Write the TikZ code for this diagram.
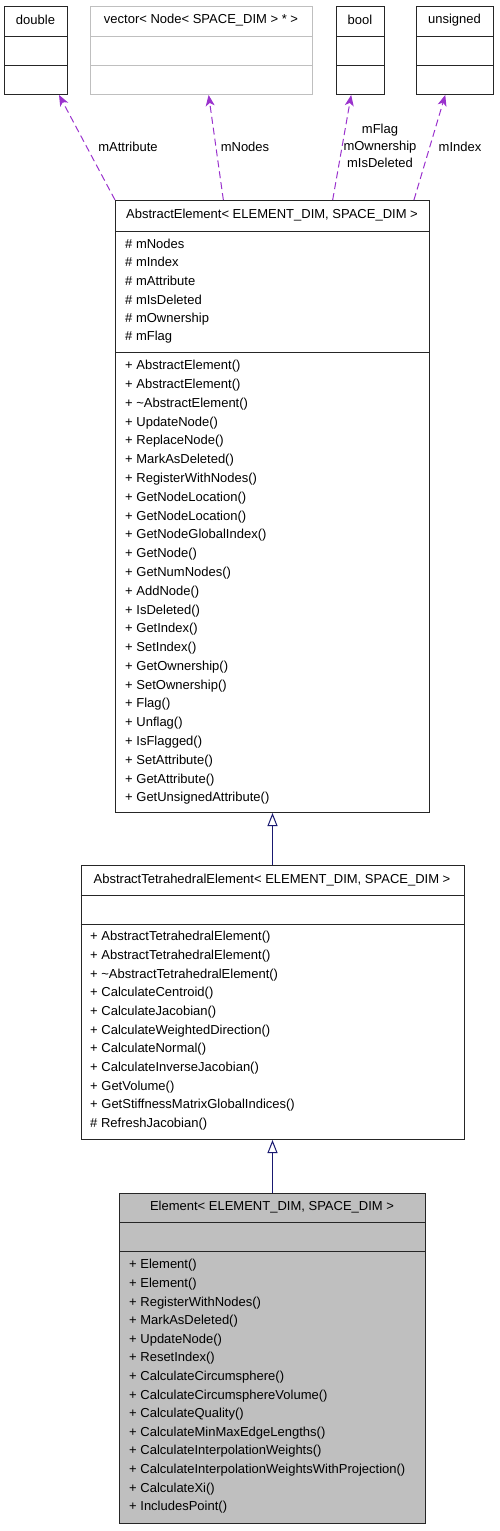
\documentclass[tikz,border=0pt]{standalone}
\usepackage{fontspec}
\setmainfont{Liberation Sans}
\usetikzlibrary{calc,arrows.meta}

\begin{document}
\begin{tikzpicture}[
		x=1pt, y=-1pt,
		cls/.style={draw=#1, line width=1pt, inner sep=0pt, anchor=north west},
		sep/.style={draw=#1, line width=1pt},
		title/.style={font=\fontsize{13}{15}\selectfont, inner sep=0pt},
		member/.style={font=\fontsize{13}{15}\selectfont, inner sep=0pt, anchor=west},
		use/.style={draw=usecol, line width=1pt, dash pattern=on 7pt off 4pt, -{Stealth[length=11pt, width=9pt, inset=3pt]}},
		inherit/.style={draw=inhcol, line width=1pt, -{Triangle[open, length=13pt, width=10pt, fill=white]}},
		lbl/.style={font=\fontsize{13}{15}\selectfont, inner sep=0pt, align=center}
		]
		
		% ==========================================
		% COLOURS
		% ==========================================
		\definecolor{usecol}{HTML}{9A32CD}
		\definecolor{inhcol}{HTML}{191970}
		\definecolor{greybox}{HTML}{BFBFBF}
		\colorlet{boxcol}{black!85}
		
		\useasboundingbox (0,0) rectangle (499,1531);
		
		% ==========================================
		% MEMBER TYPES (top row)
		% ==========================================
		\foreach \nm/\xa/\xb/\col/\txt in {
			double/4/67/boxcol/double,
			vec/90/312/greybox/{vector< Node< SPACE\_DIM > * >},
			bool/336/384/boxcol/bool,
			unsig/416/493/boxcol/unsigned} {
			\node[cls=\col, minimum width={(\xb-\xa)*1pt}, minimum height=88pt] (\nm) at (\xa,6) {};
			\draw[sep=\col] (\xa,36) -- (\xb,36);
			\draw[sep=\col] (\xa,65) -- (\xb,65);
			\node[title] (\nm-t) at ({(\xa+\xb)/2},20) {\txt};
		}
		
		% ==========================================
		% AbstractElement
		% ==========================================
		\node[cls=boxcol, minimum width=314pt, minimum height=612pt] (ae) at (115,200) {};
		\node[title] (ae-t) at (272,215) {AbstractElement< ELEMENT\_DIM, SPACE\_DIM >};
		\draw[sep=boxcol] (115,231) -- (429,231);
		\draw[sep=boxcol] (115,352) -- (429,352);
		
		% attributes
		\foreach \txt [count=\i from 0] in {\# mNodes, \# mIndex, \# mAttribute,
			\# mIsDeleted, \# mOwnership, \# mFlag} {
			\node[member] at (125,{243.5+\i*18.8}) {\txt};
		}
		% methods
		\foreach \txt [count=\i from 0] in {+ AbstractElement(), + AbstractElement(),
			+ \textasciitilde AbstractElement(), + UpdateNode(), + ReplaceNode(),
			+ MarkAsDeleted(), + RegisterWithNodes(), + GetNodeLocation(),
			+ GetNodeLocation(), + GetNodeGlobalIndex(), + GetNode(), + GetNumNodes(),
			+ AddNode(), + IsDeleted(), + GetIndex(), + SetIndex(), + GetOwnership(),
			+ SetOwnership(), + Flag(), + Unflag(), + IsFlagged(), + SetAttribute(),
			+ GetAttribute(), + GetUnsignedAttribute()} {
			\node[member] at (125,{366.5+\i*18.78}) {\txt};
		}
		
		% ==========================================
		% AbstractTetrahedralElement
		% ==========================================
		\node[cls=boxcol, minimum width=383pt, minimum height=274pt] (ate) at (80.5,865) {};
		\node[title] (ate-t) at (272,880) {AbstractTetrahedralElement< ELEMENT\_DIM, SPACE\_DIM >};
		\draw[sep=boxcol] (80.5,895) -- (463.5,895);
		\draw[sep=boxcol] (80.5,924) -- (463.5,924);
		
		\foreach \txt [count=\i from 0] in {+ AbstractTetrahedralElement(),
			+ AbstractTetrahedralElement(), + \textasciitilde AbstractTetrahedralElement(),
			+ CalculateCentroid(), + CalculateJacobian(), + CalculateWeightedDirection(),
			+ CalculateNormal(), + CalculateInverseJacobian(), + GetVolume(),
			+ GetStiffnessMatrixGlobalIndices(), \# RefreshJacobian()} {
			\node[member] at (90,{937.5+\i*18.65}) {\txt};
		}
		
		% ==========================================
		% Element (highlighted)
		% ==========================================
		\node[cls=boxcol, fill=greybox, minimum width=306pt, minimum height=330pt] (el) at (119,1193) {};
		\node[title] (el-t) at (272,1207) {Element< ELEMENT\_DIM, SPACE\_DIM >};
		\draw[sep=boxcol] (119,1222) -- (425,1222);
		\draw[sep=boxcol] (119,1251) -- (425,1251);
		
		\foreach \txt [count=\i from 0] in {+ Element(), + Element(), + RegisterWithNodes(),
			+ MarkAsDeleted(), + UpdateNode(), + ResetIndex(), + CalculateCircumsphere(),
			+ CalculateCircumsphereVolume(), + CalculateQuality(),
			+ CalculateMinMaxEdgeLengths(), + CalculateInterpolationWeights(),
			+ CalculateInterpolationWeightsWithProjection(), + CalculateXi(),
			+ IncludesPoint()} {
			\node[member] at (129,{1265.5+\i*18.6}) {\txt};
		}
		
		% ==========================================
		% CONNECTORS
		% ==========================================
		% usage (dashed)
		\draw[use] ($(ae.north west)!-0.0!(ae.north east)$) -- ($(double.south west)!0.86!(double.south east)$);
		\draw[use] ($(ae.north west)!0.344!(ae.north east)$) -- ($(vec.south west)!0.532!(vec.south east)$);
		\draw[use] ($(ae.north west)!0.691!(ae.north east)$) -- ($(bool.south west)!0.31!(bool.south east)$);
		\draw[use] ($(ae.north west)!0.949!(ae.north east)$) -- ($(unsig.south west)!0.375!(unsig.south east)$);
		
		\node[lbl] (l-attr) at (128,147) {mAttribute};
		\node[lbl] (l-nodes) at (245,147) {mNodes};
		\node[lbl] (l-bool) at (380,146) {mFlag\\[2pt]mOwnership\\[2pt]mIsDeleted};
		\node[lbl] (l-idx) at (460,147) {mIndex};
		
		% inheritance
		\draw[inherit] (ate.north) -- (ae.south);
		\draw[inherit] (el.north) -- (ate.south);
		
	\end{tikzpicture}
\end{document}
